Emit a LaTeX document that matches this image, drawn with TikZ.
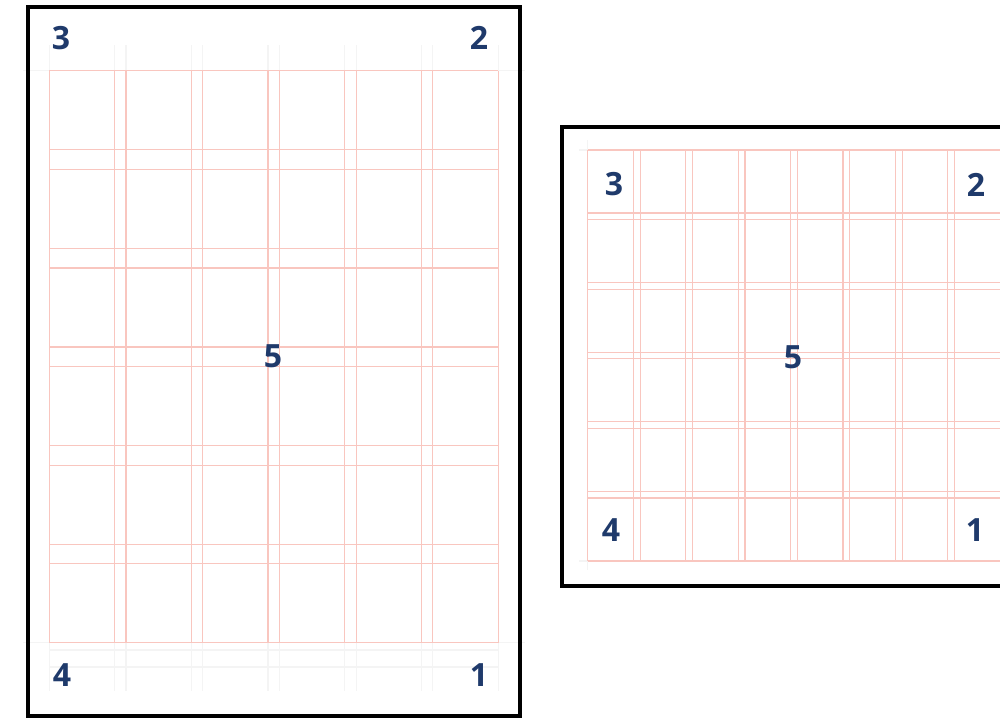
\documentclass[tikz,border=0pt]{standalone}
\usepackage{fontspec}
\setmainfont{Open Sans}
\definecolor{navy}{HTML}{1F3A6B}
\definecolor{gridred}{HTML}{F9C6BF}
\definecolor{guidegray}{HTML}{F4F4F4}
\tikzset{
  gridline/.style={draw=gridred, line width=1.2pt},
  guideline/.style={draw=guidegray, line width=1.2pt},
  pageframe/.style={draw=black, line width=4pt},
  num/.style={text=navy, font=\fontsize{32}{32}\selectfont\bfseries, inner sep=0pt},
}
\begin{document}
\begin{tikzpicture}[x=1pt, y=-1pt, line cap=butt]
  \useasboundingbox[fill=white] (0,0) rectangle (1000,718);
  \clip (0,0) rectangle (1000,718);
  \foreach \i in {0,...,5} {
    \pgfmathsetmacro{\xl}{49.3+\i*76.7}
    \pgfmathsetmacro{\xr}{\xl+65.3}
    \draw[guideline] (\xl,45) -- (\xl,70.7) (\xr,45) -- (\xr,70.7);
    \draw[guideline] (\xl,642.7) -- (\xl,691) (\xr,642.7) -- (\xr,691);
  }
  \foreach \y in {70.7, 642.7} {
    \draw[guideline] (23,\y) -- (49.3,\y) (498.1,\y) -- (525,\y);
  }
  \draw[guideline] (49.3,650) -- (498.1,650) (49.3,667) -- (498.1,667);
  \foreach \i in {0,...,5} {
    \pgfmathsetmacro{\xl}{49.3+\i*76.7}
    \pgfmathsetmacro{\xr}{\xl+65.3}
    \draw[gridline] (\xl,70.7) -- (\xl,642.7) (\xr,70.7) -- (\xr,642.7);
    \pgfmathsetmacro{\yt}{70.7+\i*98.6}
    \pgfmathsetmacro{\yb}{\yt+79}
    \draw[gridline] (49.3,\yt) -- (498.1,\yt) (49.3,\yb) -- (498.1,\yb);
  }
  \draw[pageframe] (28,7) rectangle (520,716);
  \node[num] (leftthree) at (61,38) {3};
  \node[num] (lefttwo) at (479,38) {2};
  \node[num] (leftfour) at (62,675) {4};
  \node[num] (leftone) at (479,675) {1};
  \node[num] (leftfive) at (273,356) {5};
  \draw[guideline] (579,150) -- (587.7,150) (579,561) -- (587.7,561);
  \draw[guideline] (587.7,140) -- (587.7,150) (587.7,561) -- (587.7,570);
  \foreach \i in {0,...,7} {
    \pgfmathsetmacro{\xl}{587.7+\i*52.4}
    \pgfmathsetmacro{\xr}{\xl+45.7}
    \draw[gridline] (\xl,150) -- (\xl,561) (\xr,150) -- (\xr,561);
  }
  \foreach \i in {0,...,5} {
    \pgfmathsetmacro{\yt}{150+\i*69.6}
    \pgfmathsetmacro{\yb}{\yt+62.9}
    \draw[gridline] (587.7,\yt) -- (1000,\yt) (587.7,\yb) -- (1000,\yb);
  }
  \draw[pageframe] (562,127) rectangle (1012,586);
  \node[num] (rightthree) at (614,184.5) {3};
  \node[num] (righttwo) at (976,185) {2};
  \node[num] (rightfour) at (611,530) {4};
  \node[num] (rightone) at (975,530) {1};
  \node[num] (rightfive) at (793,357) {5};
\end{tikzpicture}
\end{document}
